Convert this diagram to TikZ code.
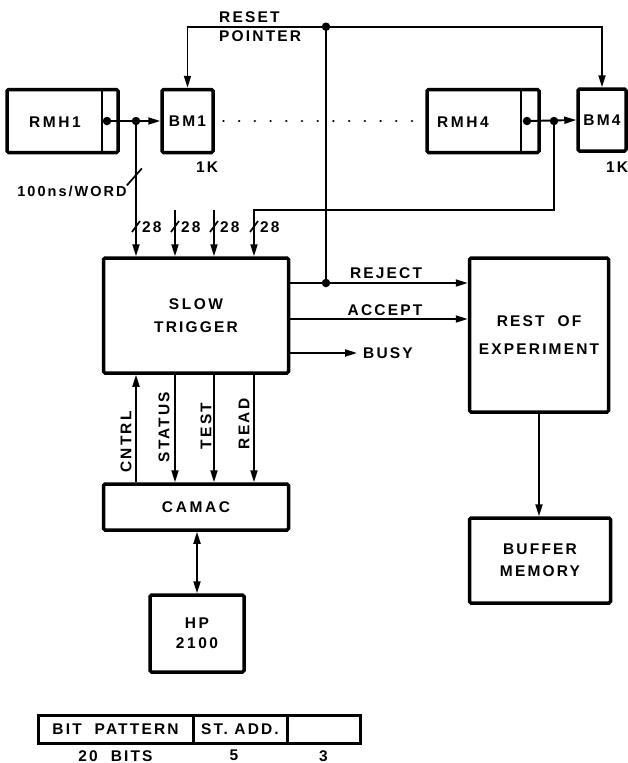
\documentclass[tikz,border=0pt]{standalone}
\usepackage{fontspec}
\setmainfont{Liberation Sans}[LetterSpace=14]
\usetikzlibrary{arrows.meta,positioning}

\begin{document}
\begin{tikzpicture}[
  x=1pt, y=-1pt,
  every node/.style={font=\fontsize{15.5}{20}\selectfont\bfseries, inner sep=0pt},
  block/.style={rectangle, draw, line width=3.5pt, rounded corners=1.5pt, align=center},
  field/.style={rectangle, draw, line width=3pt, outer sep=0pt, minimum height=28pt},
  wire/.style={line width=1.9pt},
  arr/.style={wire, -{Triangle[length=12pt,width=7pt]}},
  dblarr/.style={wire, {Triangle[length=12pt,width=7pt]}-{Triangle[length=12pt,width=7pt]}},
  jdot/.style={circle, fill, minimum size=8.5pt},
  bus/.style={line width=1.7pt},
]
\fill[white] (0,0) rectangle (628,763);
\useasboundingbox (0,0) rectangle (628,763);

% readout modules and buffer memories
\node[block, minimum width=111pt, minimum height=63pt] (rmh1) at (62.5,121) {};
\node (rmh1txt) at (55,122) {R\,M\,H\,1};
\draw[bus] ([xshift=-18pt]rmh1.north east) -- ([xshift=-18pt]rmh1.south east);
\node[block, minimum width=51pt, minimum height=63pt] (bm1) at (187.5,121) {BM1};
\node (bm1k) at (207,167) {1K};

\node[block, minimum width=112pt, minimum height=63pt] (rmh4) at (483,121) {};
\node (rmh4txt) at (463,122) {R\,M\,H\,4};
\draw[bus] ([xshift=-20pt]rmh4.north east) -- ([xshift=-20pt]rmh4.south east);
\node[block, minimum width=48pt, minimum height=62pt] (bm4) at (602,120) {BM4};
\node (bm4k) at (617,167) {1K};

\draw[line width=2.8pt, line cap=round, dash pattern=on 0.01pt off 15.7pt, dash phase=7pt]
  (bm1.east) -- (rmh4.west);

\node[jdot] (d1) at (107,121) {};
\node[jdot] (j1) at (136,121) {};
\node[jdot] (d4) at (527,121) {};
\node[jdot] (j4) at (554,121) {};
\draw[arr] (d1.center) -- (bm1.west);
\draw[arr] (d4.center) -- (bm4.west);

% main blocks
\node[block, minimum width=185pt, minimum height=115pt, font=\fontsize{15.5}{23}\selectfont\bfseries]
  (trig) at (196,315.5) {S\,L\,O\,W\\TRIGGER};
\node[block, minimum width=139pt, minimum height=154pt, font=\fontsize{15.5}{28}\selectfont\bfseries]
  (rest) at (539,335) {REST~~OF\\EXPERIMENT};
\node[block, minimum width=141pt, minimum height=85pt, font=\fontsize{15.5}{22}\selectfont\bfseries]
  (buffer) at (540,560.5) {BUFFER\\MEMORY};
\node[block, minimum width=185pt, minimum height=46pt] (camac) at (196,507) {C\,A\,M\,A\,C};
\node[block, minimum width=94pt, minimum height=77pt, font=\fontsize{15.5}{20}\selectfont\bfseries]
  (hp) at (197,633.5) {H\,P\\2\,1\,0\,0};

% reset pointer
\node[anchor=north west, align=left, font=\fontsize{15.5}{19}\selectfont\bfseries]
  (reset) at (219,11) {RESET\\POINTER};
\node[jdot] (rdot) at (326,26.7) {};
\node[jdot] (rjdot) at (326,283) {};
\draw[arr] (rdot.center) -| (bm1.north);
\draw[arr] (rdot.center) -| (bm4.north);
\draw[wire] (rdot.center) -- (rjdot.center);

% inputs to the slow trigger
\coordinate (c1) at (136,210);
\coordinate (c2) at (175,210);
\coordinate (c3) at (214,210);
\coordinate (c4) at (254,210);
\draw[arr] (j1.center) -- (c1 |- trig.north);
\draw[arr] (c2) -- (c2 |- trig.north);
\draw[arr] (c3) -- (c3 |- trig.north);
\draw[arr] (j4.center) |- (c4) -- (c4 |- trig.north);
\foreach \x [count=\i] in {136,175,214,254} {
  \draw[bus] (\x-4,232) -- (\x+4,221);
  \node[anchor=west] (w\i) at (\x+6,227) {28};
}
\node[font=\fontsize{14.5}{20}\selectfont\bfseries] (word) at (72,191) {100ns/WORD};
\draw[bus] (word.north east) -- ++(15,-17);

% outputs
\node (rejlbl) at (386,273) {REJECT};
\node (acclbl) at (385,310) {ACCEPT};
\node (busy) at (388,353) {BUSY};
\draw[arr] (trig.east |- rjdot) -- (rest.west |- rjdot);
\draw[arr] ([yshift=-3.5pt]trig.east) -- ([yshift=-3.5pt]trig.east -| rest.west);
\draw[arr, shorten >=6pt] (trig.east |- busy) -- (busy.west);
\draw[arr] (rest.south) -- (rest.south |- buffer.north);

% trigger <-> CAMAC
\draw[arr] (c1 |- camac.north) -- (c1 |- trig.south);
\draw[arr] (c2 |- trig.south) -- (c2 |- camac.north);
\draw[arr] (c3 |- trig.south) -- (c3 |- camac.north);
\draw[arr] (c4 |- trig.south) -- (c4 |- camac.north);
\node[rotate=90] (cntrl) at (126,442) {CNTRL};
\node[rotate=90] (status) at (164,427) {STATUS};
\node[rotate=90] (test) at (206,426) {TEST};
\node[rotate=90] (read) at (244,424) {READ};
\draw[dblarr] (hp.north) -- (hp.north |- camac.south);

% word format
\node[field, minimum width=155pt] (bitpat) at (115.5,729) {BIT~~PATTERN};
\node[field, minimum width=94pt, right=0pt of bitpat] (stadd) {ST.~ADD.};
\node[field, minimum width=73pt, right=0pt of stadd] (spare) {};
\node[below=7pt of bitpat] (bitw) {20~~BITS};
\node[below=7pt of stadd, xshift=-6pt] (staddw) {5};
\node[below=7pt of spare] (sparew) {3};
\end{tikzpicture}
\end{document}
